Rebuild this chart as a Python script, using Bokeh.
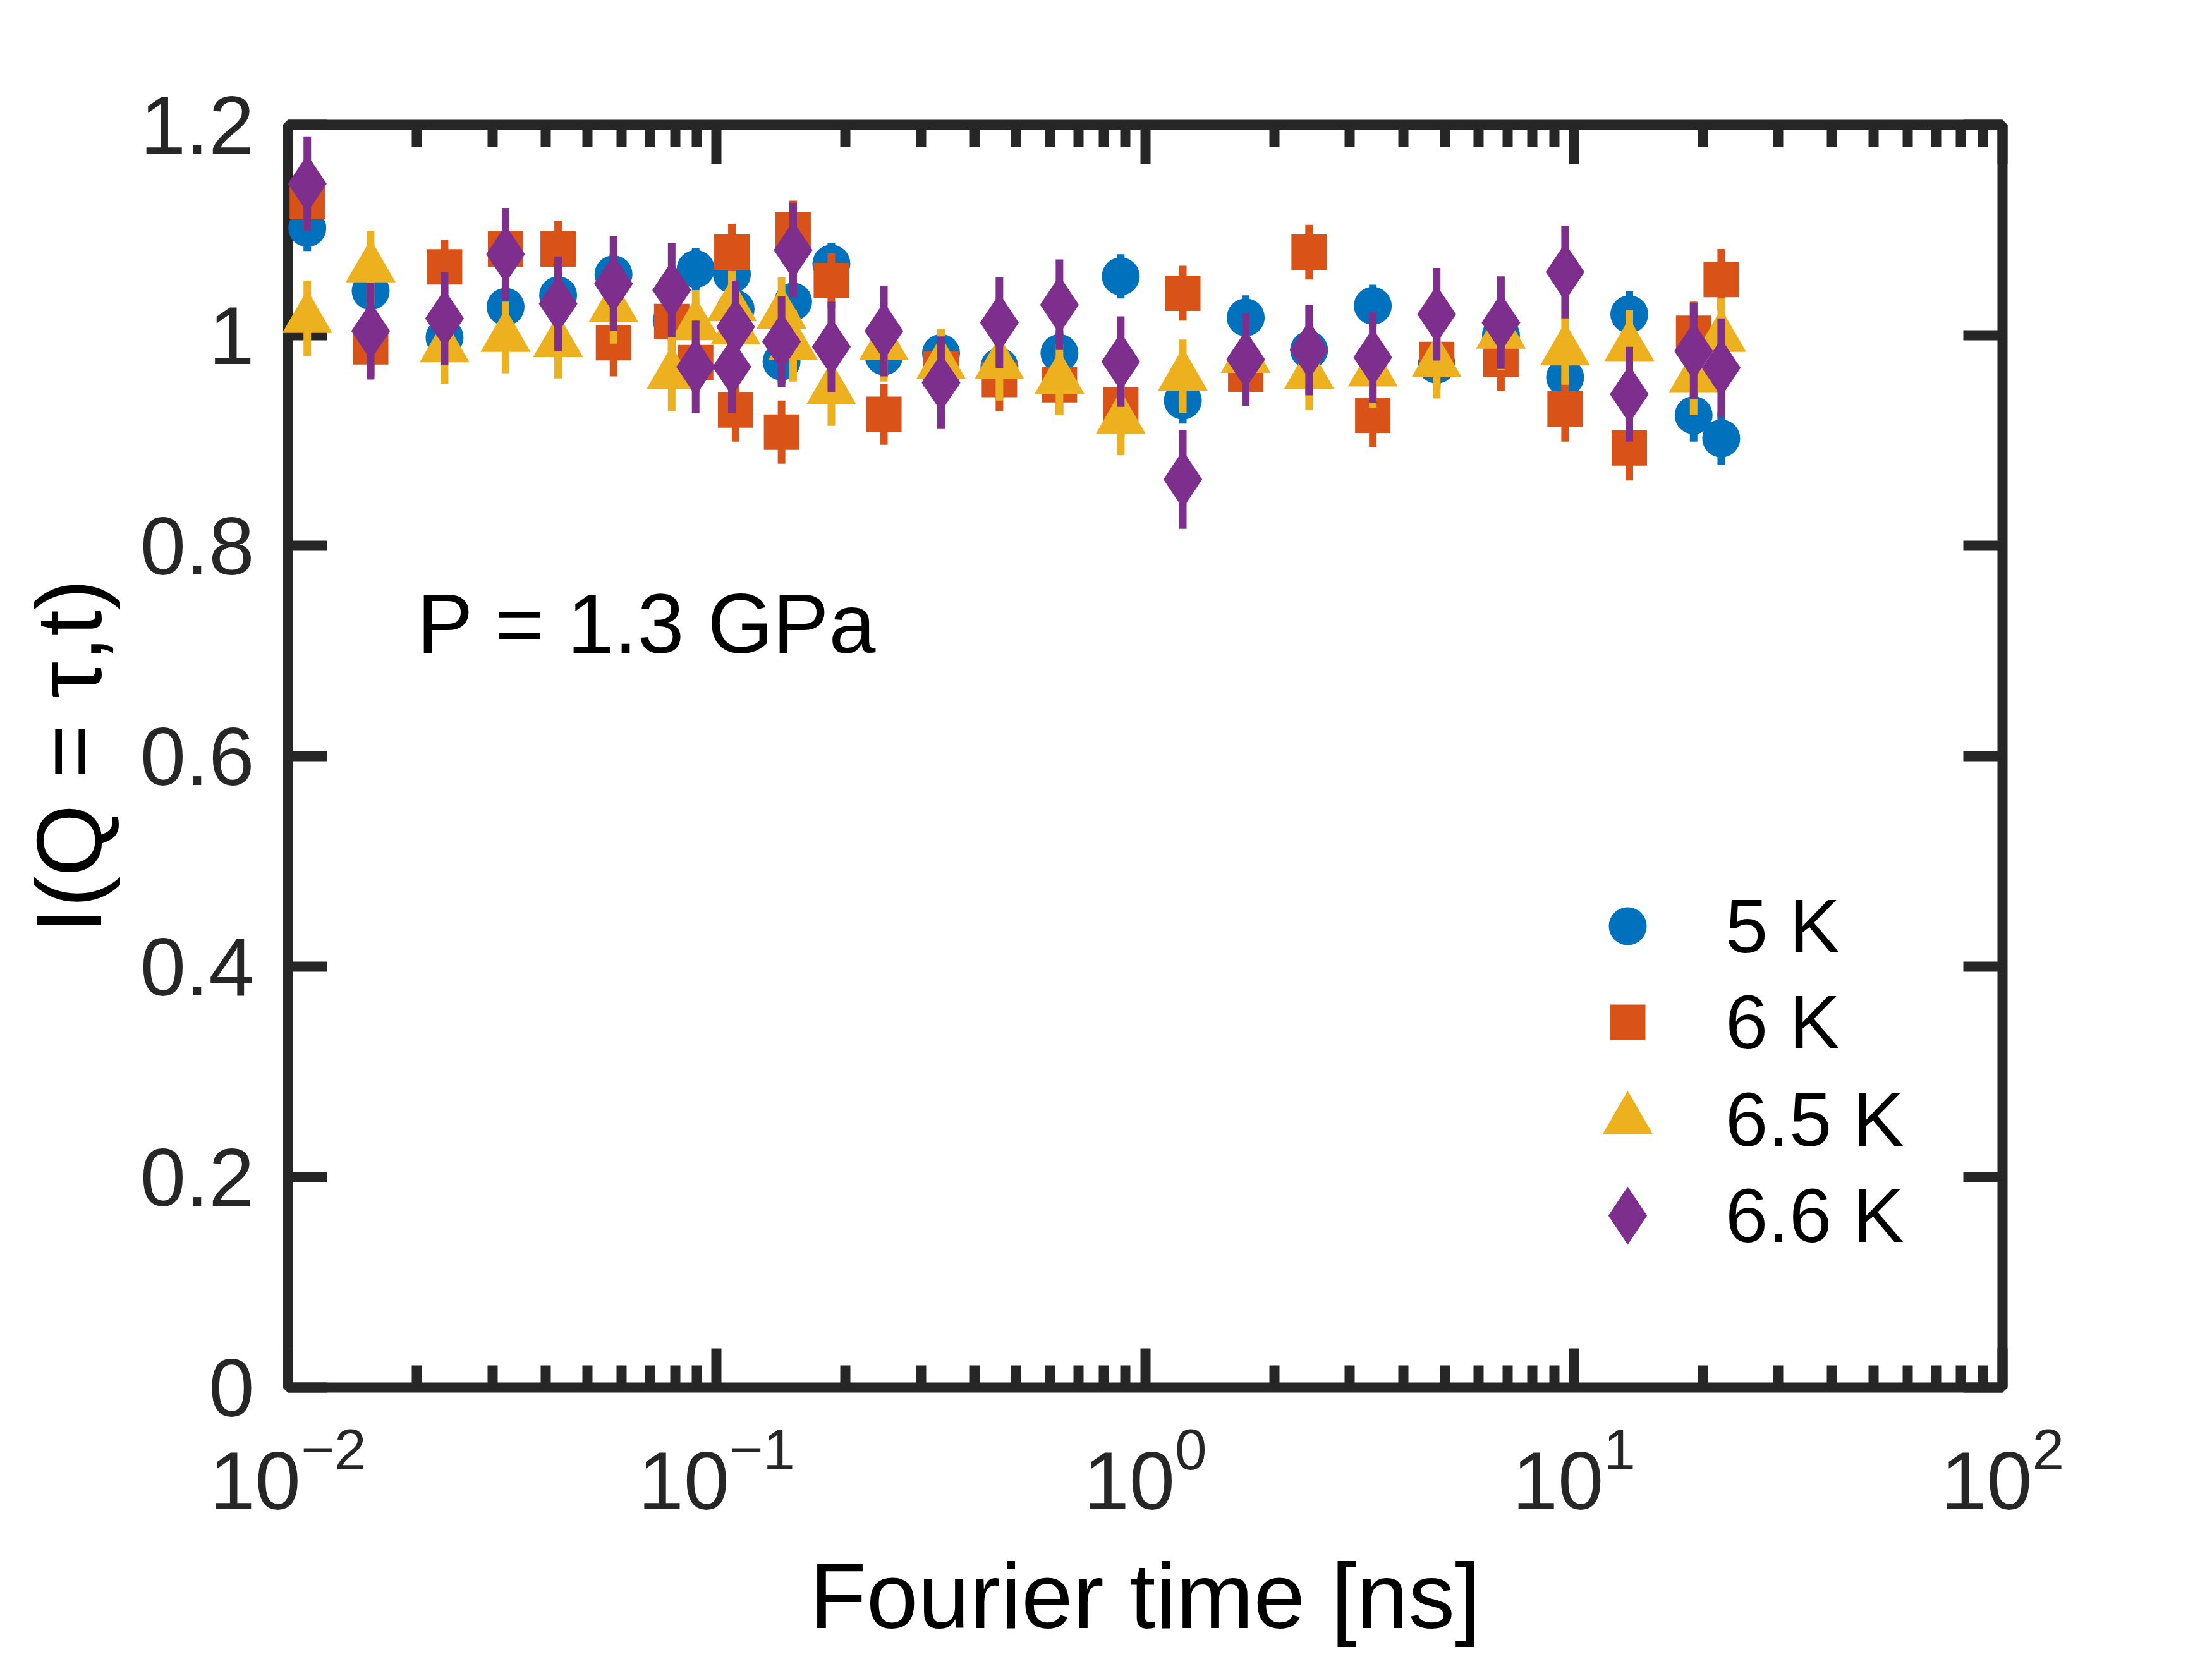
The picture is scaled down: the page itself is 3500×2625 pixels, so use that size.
import numpy as np
from bokeh.plotting import figure
from bokeh.models import (ColumnDataSource, Range1d, FixedTicker, LogAxis, LinearAxis,
                          LogTickFormatter, CustomJSTickFormatter, Legend, LegendItem, Label)
from bokeh.embed import file_html
from bokeh.resources import INLINE

# ---------------- data ----------------
fourier_time = [0.0111, 0.0156, 0.0232, 0.0322, 0.0427, 0.0575, 0.0786, 0.0894,
                0.1086, 0.1108, 0.1418, 0.1509, 0.1853, 0.2457, 0.334, 0.457,
                0.631, 0.877, 1.224, 1.716, 2.412, 3.396, 4.786, 6.76,
                9.54, 13.47, 19.03, 22.07]

i_5K = [1.102, 1.042, 0.998, 1.027, 1.038, 1.058, 1.014, 1.063,
        1.058, 1.025, 0.975, 1.032, 1.068, 0.980, 0.983, 0.970,
        0.983, 1.056, 0.938, 1.017, 0.986, 1.028, 0.972, 1.000,
        0.960, 1.020, 0.924, 0.902]
err_5K = [0.022, 0.020, 0.020, 0.020, 0.020, 0.020, 0.020, 0.020,
          0.020, 0.020, 0.021, 0.020, 0.020, 0.020, 0.020, 0.021,
          0.021, 0.021, 0.022, 0.021, 0.021, 0.020, 0.021, 0.022,
          0.022, 0.022, 0.025, 0.025]

i_6K = [1.127, 0.989, 1.065, 1.082, 1.082, 0.993, 1.013, 0.974,
        1.079, 0.929, 0.908, 1.100, 1.052, 0.925, 0.968, 0.958,
        0.953, 0.934, 1.040, 0.963, 1.079, 0.924, 0.977, 0.977,
        0.930, 0.893, 1.002, 1.053]
err_6K = [0.028, 0.028, 0.026, 0.027, 0.027, 0.032, 0.028, 0.028,
          0.027, 0.030, 0.030, 0.028, 0.026, 0.029, 0.029, 0.030,
          0.029, 0.030, 0.026, 0.028, 0.026, 0.030, 0.029, 0.030,
          0.031, 0.031, 0.030, 0.029]

i_65K = [1.016, 1.064, 0.988, 0.998, 0.993, 1.026, 0.963, 1.009,
         1.027, 1.005, 1.020, 0.990, 0.948, 0.990, 0.972, 0.972,
         0.958, 0.920, 0.961, 0.978, 0.963, 0.965, 0.974, 1.001,
         0.985, 0.989, 0.959, 0.998]
err_65K = [0.036, 0.035, 0.034, 0.034, 0.034, 0.034, 0.035, 0.034,
           0.034, 0.034, 0.035, 0.034, 0.034, 0.034, 0.034, 0.034,
           0.034, 0.034, 0.035, 0.034, 0.034, 0.034, 0.034, 0.034,
           0.032, 0.035, 0.035, 0.037]

i_66K = [1.144, 1.004, 1.016, 1.077, 1.030, 1.049, 1.043, 0.970,
         0.970, 1.008, 0.994, 1.081, 0.989, 1.004, 0.955, 1.012,
         1.029, 0.975, 0.863, 0.977, 0.986, 0.979, 1.020, 1.012,
         1.060, 0.944, 0.985, 0.969]
err_66K = [0.045, 0.046, 0.044, 0.044, 0.045, 0.045, 0.045, 0.044,
           0.044, 0.044, 0.043, 0.045, 0.043, 0.043, 0.044, 0.043,
           0.043, 0.043, 0.047, 0.044, 0.043, 0.043, 0.044, 0.044,
           0.044, 0.045, 0.046, 0.047]

series_labels = ["5 K", "6 K", "6.5 K", "6.6 K"]
x_major_ticks = [0.01, 0.1, 1, 10, 100]
y_major_ticks = [0, 0.2, 0.4, 0.6, 0.8, 1.0, 1.2]
annotation_text = "P = 1.3 GPa"
annotation_pos = (0.02, 0.726)

# ---------------- styling ----------------
FONT = "Liberation Sans"
AX = "#262626"
styles = [
    dict(color="#0072BD", marker="circle", size=60, leg=(2045, 655, 80)),
    dict(color="#D95319", marker="square", size=56, leg=(2050, 508, 85)),
    dict(color="#EDB120", marker="triangle", size=79, leg=(2021, 325, 56)),
    dict(color="#7E2F8E", marker="diamond", size=92, leg=(2005, 157, 40)),
]
values = [i_5K, i_6K, i_65K, i_66K]
errors = [err_5K, err_6K, err_65K, err_66K]

p = figure(width=3484, height=2609, x_axis_type="log",
           x_range=Range1d(0.01, 100), y_range=Range1d(0, 1.2),
           output_backend="svg", toolbar_location=None,
           min_border_left=455, min_border_right=316,
           min_border_top=197, min_border_bottom=412)
p.background_fill_color = "white"
p.border_fill_color = "white"
p.grid.visible = False
p.outline_line_color = AX
p.outline_line_width = 16
p.outline_line_alpha = 1.0

minor_x = [d * m for d in x_major_ticks[:-1] for m in range(2, 10)]
xticker = FixedTicker(ticks=x_major_ticks, minor_ticks=minor_x)
yticker = FixedTicker(ticks=y_major_ticks)
blank = CustomJSTickFormatter(code="return '';")

def style_axis(ax, minor=True):
    ax.axis_line_color = None
    ax.major_tick_in = 62
    ax.major_tick_out = 0
    ax.major_tick_line_width = 16
    ax.major_tick_line_color = AX
    if minor:
        ax.minor_tick_in = 35
        ax.minor_tick_out = 0
        ax.minor_tick_line_width = 16
        ax.minor_tick_line_color = AX
    else:
        ax.minor_tick_line_color = None
    ax.major_label_text_font = FONT
    ax.major_label_text_font_size = "130px"
    ax.major_label_text_color = AX
    ax.axis_label_text_font = FONT
    ax.axis_label_text_font_size = "147px"
    ax.axis_label_text_font_style = "normal"
    ax.axis_label_text_color = "black"

xa = p.xaxis[0]
xa.ticker = xticker
xa.formatter = LogTickFormatter()
style_axis(xa, True)
xa.major_label_standoff = 60
xa.axis_label = "Fourier time [ns]"
xa.axis_label_standoff = 52

ya = p.yaxis[0]
ya.ticker = yticker
ya.formatter = CustomJSTickFormatter(code="return tick.toFixed(1).replace(/\\.0$/, '');")
style_axis(ya, False)
ya.major_label_standoff = 53
ya.axis_label = "I(Q = τ,t)"
ya.axis_label_standoff = 28

top = LogAxis(ticker=xticker, formatter=blank)
style_axis(top, True)
top.major_label_standoff = 0
p.add_layout(top, "above")

right = LinearAxis(ticker=yticker, formatter=blank)
style_axis(right, False)
right.major_label_standoff = 0
p.add_layout(right, "right")

for vals, errs, st, lab in zip(values, errors, styles, series_labels):
    v = np.array(vals)
    e = np.array(errs)
    src = ColumnDataSource(dict(x=fourier_time, y=v, lo=v - e, hi=v + e))
    p.segment(x0="x", y0="lo", x1="x", y1="hi", source=src,
              line_color=st["color"], line_width=12, level="overlay")
    r = p.scatter(x="x", y="y", source=src, marker=st["marker"], size=st["size"],
                  fill_color=st["color"], line_color=None, level="overlay")
    g = st["size"] / 0.4
    vx, vy, standoff = st["leg"]
    leg = Legend(items=[LegendItem(label=lab, renderers=[r])],
                 location=(vx, vy), glyph_width=int(round(g)), glyph_height=int(round(g)),
                 label_height=int(round(g)), label_standoff=standoff,
                 padding=0, margin=0, spacing=0,
                 border_line_color=None, background_fill_alpha=0,
                 label_text_font=FONT, label_text_font_size="121px",
                 label_text_color="black")
    p.add_layout(leg)

p.add_layout(Label(x=annotation_pos[0], y=annotation_pos[1], text=annotation_text,
                   text_font=FONT, text_font_size="133px", text_color="black",
                   text_align="left", text_baseline="alphabetic"))

open("out.html", "w").write(file_html(p, INLINE))
